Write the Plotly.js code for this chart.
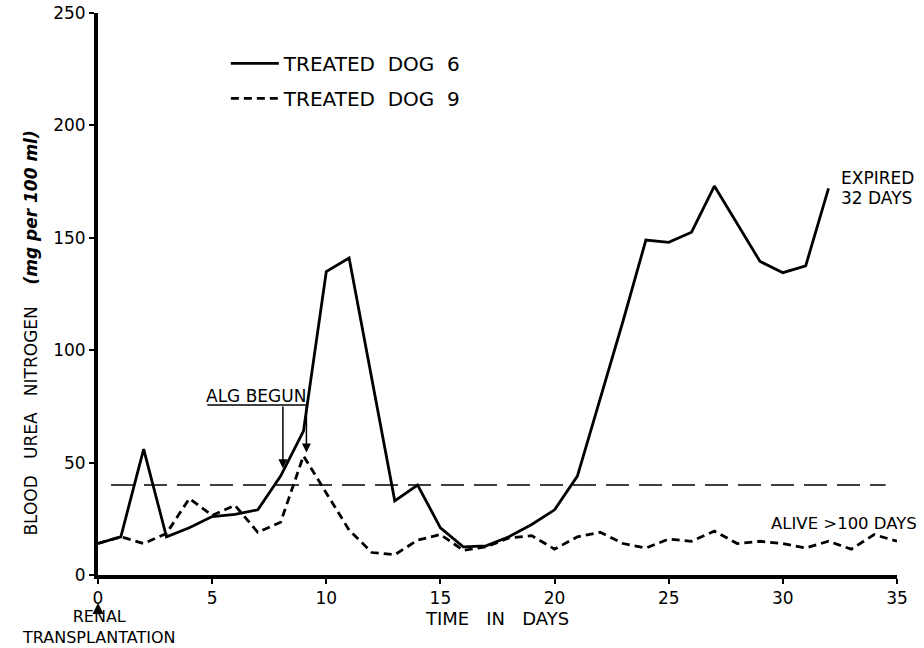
<!DOCTYPE html>
<html>
<head>
<meta charset="utf-8">
<script src="https://cdn.plot.ly/plotly-3.0.1.min.js"></script>
<style>html,body{margin:0;padding:0;background:#fff;}#chart{width:924px;height:648px;}</style>
</head>
<body>
<div id="chart"></div>
<script>
// ---- data ----
var dog6Days = [0, 1, 2, 3, 4, 5, 6, 7, 8, 9, 10, 11, 13, 14, 15, 16, 17, 18, 19, 20, 21, 23, 24, 25, 26, 27, 29, 30, 31, 32];
var dog6BUN  = [14, 17, 56, 17, 21, 26, 27, 29, 44, 64, 135, 141, 33, 40, 21, 12.5, 13, 17, 22.5, 29, 44, 113, 149, 148, 152.5, 173, 139.5, 134.5, 137.5, 172];

var dog9Days = [0, 1, 2, 3, 4, 5, 6, 7, 8, 9, 11, 12, 13, 14, 15, 16, 17, 18, 19, 20, 21, 22, 23, 24, 25, 26, 27, 28, 29, 30, 31, 32, 33, 34, 35];
var dog9BUN  = [14, 17, 14, 18.5, 34, 26.5, 31, 19, 23.5, 53, 20, 10, 9, 15.5, 18, 11, 12.5, 16.5, 17.5, 11.5, 17, 19, 14, 12, 16, 15, 19.5, 14, 15, 14, 12, 15, 11.5, 18, 15];

var seriesNames = ['TREATED\u00A0\u00A0DOG\u00A0\u00A06', 'TREATED\u00A0\u00A0DOG\u00A0\u00A09'];
var referenceBUN = 40;
var xTicks = [0, 5, 10, 15, 20, 25, 30, 35];
var yTicks = [0, 50, 100, 150, 200, 250];
var algDays = [8.1, 9.13];

var FONT = 'DejaVu Sans, sans-serif';

var traces = [
  {
    x: dog6Days, y: dog6BUN, type: 'scatter', mode: 'lines', name: seriesNames[0],
    line: {color: '#000', width: 2.8}, legendgroup: 'a', hoverinfo: 'x+y'
  },
  {
    x: dog9Days, y: dog9BUN, type: 'scatter', mode: 'lines', name: seriesNames[1],
    line: {color: '#000', width: 2.8, dash: '8px,5px'}, legendgroup: 'b', hoverinfo: 'x+y'
  }
];

var layout = {
  width: 924, height: 648,
  margin: {l: 97.5, r: 27, t: 13, b: 73, pad: 0},
  paper_bgcolor: '#fff', plot_bgcolor: '#fff',
  font: {family: FONT, color: '#000', size: 17},
  showlegend: true,
  legend: {
    x: 0.16, y: 0.945, xanchor: 'left', yanchor: 'top',
    bgcolor: 'rgba(0,0,0,0)', borderwidth: 0,
    font: {family: FONT, size: 20, color: '#000'},
    tracegroupgap: 6, itemwidth: 48
  },
  xaxis: {
    range: [0, 35], tickvals: xTicks, ticktext: xTicks.map(String),
    showline: true, linecolor: '#000', linewidth: 4,
    ticks: 'outside', ticklen: 5, tickwidth: 2, tickcolor: '#000',
    showgrid: false, zeroline: false,
    tickfont: {family: FONT, size: 17, color: '#000'},
    title: {text: 'TIME\u00A0\u00A0\u00A0IN\u00A0\u00A0\u00A0DAYS', font: {family: FONT, size: 18, color: '#000'}, standoff: 6}
  },
  yaxis: {
    range: [0, 250], tickvals: yTicks, ticktext: yTicks.map(String),
    showline: true, linecolor: '#000', linewidth: 4,
    ticks: 'outside', ticklen: 5, tickwidth: 2, tickcolor: '#000',
    showgrid: false, zeroline: false,
    tickfont: {family: FONT, size: 17, color: '#000'}
  },
  shapes: [
    // dashed reference level
    {type: 'line', xref: 'x', yref: 'y', x0: 0.57, x1: 34.5, y0: referenceBUN, y1: referenceBUN,
     line: {color: '#000', width: 1.5, dash: '23px,10px'}},
    // ALG BEGUN underline / bracket
    {type: 'line', xref: 'x', yref: 'y', x0: 4.79, x1: algDays[1], y0: 75.6, y1: 75.6,
     line: {color: '#000', width: 1.5}}
  ],
  annotations: [
    {xref: 'paper', yref: 'paper', x: -0.0844, y: 0.4306, textangle: -90, showarrow: false,
     xanchor: 'center', yanchor: 'middle',
     text: 'BLOOD\u00A0\u00A0\u00A0UREA\u00A0\u00A0\u00A0NITROGEN\u00A0\u00A0\u00A0\u00A0<b><i>(mg per 100 ml)</i></b>',
     font: {family: FONT, size: 17, color: '#000'}},
    {xref: 'x', yref: 'y', x: 6.94, y: 79.6, text: 'ALG\u00A0BEGUN', showarrow: false,
     xanchor: 'center', yanchor: 'middle', font: {family: FONT, size: 17, color: '#000'}},
    {xref: 'x', yref: 'y', x: algDays[0], y: 47.5, ax: algDays[0], ay: 75.6, axref: 'x', ayref: 'y',
     text: '', showarrow: true, arrowhead: 2, arrowsize: 1.2, arrowwidth: 1.5, arrowcolor: '#000'},
    {xref: 'x', yref: 'y', x: algDays[1], y: 54.5, ax: algDays[1], ay: 75.6, axref: 'x', ayref: 'y',
     text: '', showarrow: true, arrowhead: 2, arrowsize: 1.2, arrowwidth: 1.5, arrowcolor: '#000'},
    {xref: 'x', yref: 'y', x: 32.47, y: 176.4, text: 'EXPIRED', showarrow: false,
     xanchor: 'left', yanchor: 'middle', font: {family: FONT, size: 17, color: '#000'}},
    {xref: 'x', yref: 'y', x: 32.47, y: 167.6, text: '32 DAYS', showarrow: false,
     xanchor: 'left', yanchor: 'middle', font: {family: FONT, size: 17, color: '#000'}},
    {xref: 'x', yref: 'y', x: 29.4, y: 23.1, text: 'ALIVE >100 DAYS', showarrow: false,
     xanchor: 'left', yanchor: 'middle', font: {family: FONT, size: 16.5, color: '#000'}},
    {xref: 'x', yref: 'paper', x: 0, y: -0.05, ax: 0, ay: 10, text: '', showarrow: true,
     arrowhead: 2, arrowsize: 1.1, arrowwidth: 2, arrowcolor: '#000'},
    {xref: 'x', yref: 'paper', x: 0, y: -0.0918, text: 'RENAL<br>TRANSPLANTATION', showarrow: false,
     xanchor: 'center', yanchor: 'middle', align: 'center', borderpad: 0,
     font: {family: FONT, size: 16, color: '#000'}}
  ]
};

Plotly.newPlot('chart', traces, layout, {displayModeBar: false, staticPlot: true});
</script>
</body>
</html>
